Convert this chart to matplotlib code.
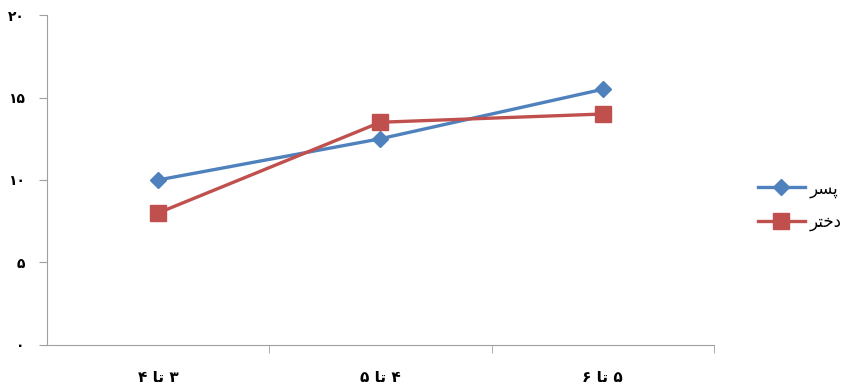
import matplotlib
matplotlib.use("Agg")
import matplotlib.pyplot as plt
from matplotlib.ticker import FixedLocator

# Persian text written in visual order with presentation forms
# (matplotlib has no shaping / RTL support)
categories = ["\u06f4 \ufe8e\ufe97 \u06f3", "\u06f5 \ufe8e\ufe97 \u06f4", "\u06f6 \ufe8e\ufe97 \u06f5"]
boys = [10.0, 12.5, 15.5]
girls = [8.0, 13.5, 14.0]
boys_label = "\ufeae\ufeb4\ufb58"          # پسر
girls_label = "\ufeae\ufe98\ufea7\ufea9"   # دختر
yticks = [0, 5, 10, 15, 20]
ytick_labels = ["\u06f0", "\u06f5", "\u06f1\u06f0", "\u06f1\u06f5", "\u06f2\u06f0"]

plt.rcParams['font.family'] = ['DejaVu Sans']

fig = plt.figure(figsize=(8.56, 3.87), dpi=100)
ax = fig.add_axes([0.055, 0.109, 0.779, 0.852])

x = list(range(len(categories)))
ax.plot(x, boys, color="#4F81BD", lw=2.4, marker="D", ms=8, label=boys_label)
ax.plot(x, girls, color="#C0504D", lw=2.4, marker="s", ms=12, label=girls_label)

ax.set_xlim(-0.5, len(categories) - 0.5)
ax.set_ylim(0, 20)
ax.set_yticks(yticks)
ax.set_yticklabels(ytick_labels, fontsize=10, fontweight="bold")
ax.set_xticks(x)
ax.set_xticklabels(categories, fontsize=11, fontweight="bold")
ax.tick_params(axis="x", length=0, pad=18)
ax.xaxis.set_minor_locator(FixedLocator([0.5, 1.5, 2.5]))
ax.tick_params(axis="x", which="minor", length=6, color="#A0A0A0")
ax.tick_params(axis="y", length=6, color="#A0A0A0", pad=10)

for s in ["top", "right"]:
    ax.spines[s].set_visible(False)
for s in ["left", "bottom"]:
    ax.spines[s].set_color("#A0A0A0")

fig.legend(loc="center left", bbox_to_anchor=(0.868, 0.47), frameon=False,
           handlelength=2.8, fontsize=12, labelspacing=0.9, handletextpad=0.3)

fig.savefig("out.png", dpi=100)
